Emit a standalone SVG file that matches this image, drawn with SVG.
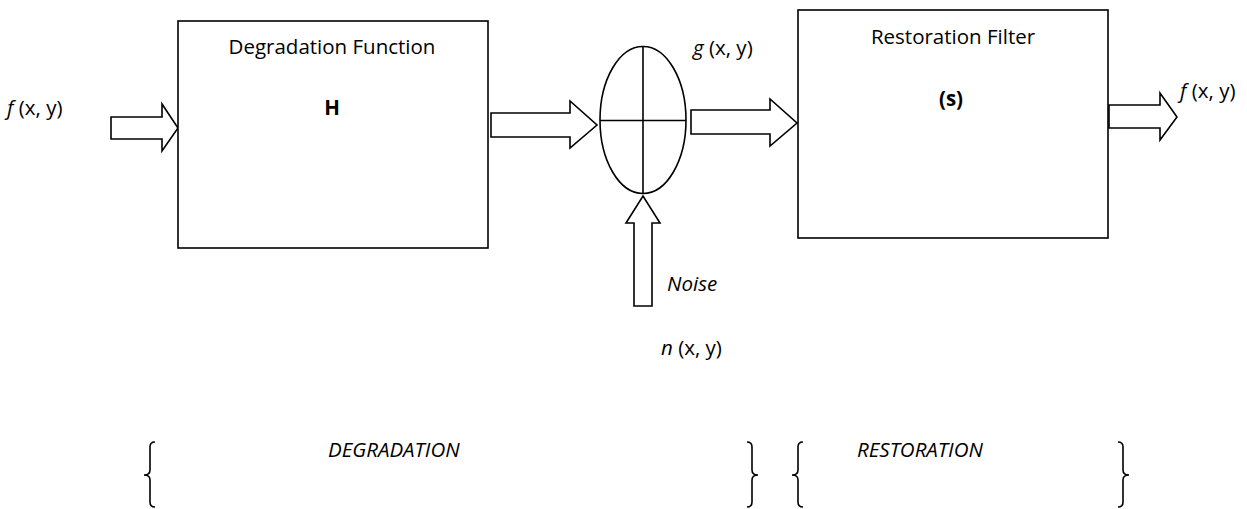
<svg xmlns="http://www.w3.org/2000/svg" width="1247" height="509" viewBox="0 0 1247 509">
<style>
.box{fill:#fff;stroke:#000;stroke-width:1.6}
.arr{fill:#fff;stroke:#000;stroke-width:1.6;stroke-linejoin:miter}
.ln{fill:none;stroke:#000;stroke-width:1.6}
.br{fill:none;stroke:#000;stroke-width:1.6}
text{font-family:"Open Sans","DejaVu Sans",sans-serif;font-size:20.5px;fill:#000}
.c{text-anchor:middle}
.b{font-weight:bold}
.i{font-style:italic}
</style>
<rect width="1247" height="509" fill="#fff"/>
<g id="connectors">
<path class="arr" d="M111,117 L162,117 L162,104 L178,128 L162,151 L162,139 L111,139 Z"/>
<path class="arr" d="M491,113 L570,113 L570,101 L597,125 L570,148 L570,137 L491,137 Z"/>
<path class="arr" d="M691,110 L770,110 L770,99 L797,123 L770,146 L770,134 L691,134 Z"/>
<path class="arr" d="M1109,105 L1160,105 L1160,93 L1177,117 L1160,140 L1160,128 L1109,128 Z"/>
<path class="arr" d="M634,306 L634,223 L626,223 L643,196 L660,223 L652,223 L652,306 Z"/>
</g>
<g id="node-degradation">
<rect class="box" x="178" y="21" width="310" height="227"/>
<text class="c" x="332" y="54">Degradation Function</text>
<text class="c b" x="332" y="115">H</text>
</g>
<g id="node-sum">
<ellipse class="ln" cx="643" cy="120" rx="43" ry="73.5"/>
<line class="ln" x1="643" y1="46.5" x2="643" y2="193.5"/>
<line class="ln" x1="600" y1="120.5" x2="686" y2="120.5"/>
</g>
<g id="node-restoration">
<rect class="box" x="798" y="10" width="310" height="228"/>
<text class="c" x="953" y="44">Restoration Filter</text>
<text class="c b" x="951" y="106">(s)</text>
</g>
<g id="labels">
<text x="7" y="115"><tspan class="i">f</tspan> (x, y)</text>
<text x="693" y="55"><tspan class="i">g</tspan> (x, y)</text>
<text x="1180" y="98"><tspan class="i">f</tspan> (x, y)</text>
<text class="i" x="667" y="291">Noise</text>
<text x="661" y="355"><tspan class="i">n</tspan> (x, y)</text>
<text class="i" x="328" y="457">DEGRADATION</text>
<text class="i" x="857" y="457">RESTORATION</text>
</g>
<g id="braces">
<path class="br" d="M155,442 Q150,442 150,447 L150,470 Q150,475 144,475 Q150,475 150,480 L150,502 Q150,507 155,507"/>
<path class="br" d="M747,442 Q752,442 752,447 L752,470 Q752,475 758,475 Q752,475 752,480 L752,502 Q752,507 747,507"/>
<path class="br" d="M803,442 Q798,442 798,447 L798,470 Q798,475 792,475 Q798,475 798,480 L798,502 Q798,507 803,507"/>
<path class="br" d="M1118,442 Q1123,442 1123,447 L1123,470 Q1123,475 1129,475 Q1123,475 1123,480 L1123,502 Q1123,507 1118,507"/>
</g>
</svg>
